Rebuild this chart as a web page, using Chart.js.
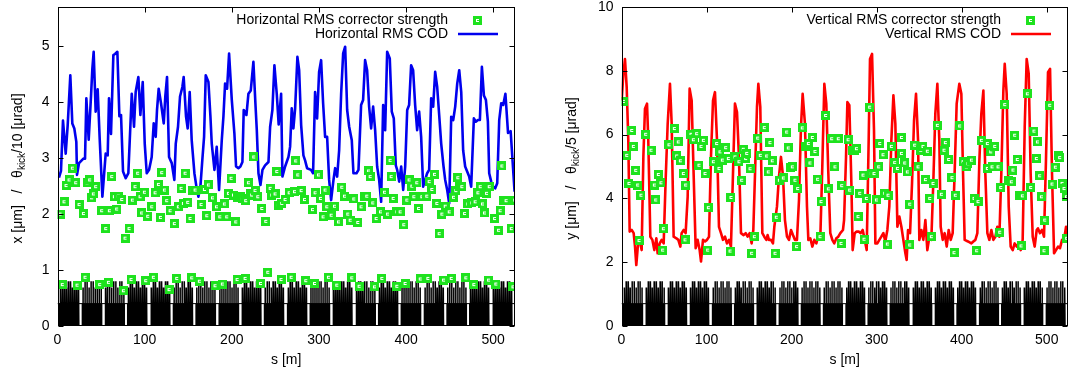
<!DOCTYPE html>
<html>
<head>
<meta charset="utf-8">
<script src="https://cdn.jsdelivr.net/npm/chart.js@4.4.1/dist/chart.umd.min.js"></script>
<style>
  html, body { margin: 0; padding: 0; background: #fff; overflow: hidden; }
  body { width: 1068px; height: 376px; position: relative; }
  canvas { position: absolute; top: 0; }
  #left  { left: 0; }
  #right { left: 534px; }
</style>
</head>
<body>
<canvas id="left" width="534" height="376"></canvas>
<canvas id="right" width="546" height="376"></canvas>
<script>
// ---- data ----
const S_MAX = 525;
const sTicks = [0, 100, 200, 300, 400, 500];
const xPanelTicks = [0, 1, 2, 3, 4, 5];
const yPanelTicks = [0, 2, 4, 6, 8, 10];

// horizontal RMS COD [um], pairs [s, value]
const codX = [
  [1.7,2.65],[4.0,2.77],[6.3,3.67],[9.4,3.08],[11.7,3.59],[14.7,4.48],[17.0,3.62],[19.3,3.53],[21.6,3.29],[22.4,2.70],
  [24.7,2.91],[29.7,2.99],[31.6,2.99],[33.1,4.07],[35.8,3.33],[38.5,4.12],[40.0,4.60],[41.5,4.90],[43.8,3.83],[46.1,4.23],
  [48.4,3.35],[51.5,2.31],[55.3,3.08],[57.6,3.05],[59.1,4.07],[61.4,3.43],[64.1,4.84],[66.0,4.86],[68.7,4.90],[71.0,3.75],
  [72.9,3.77],[75.2,2.76],[78.3,2.64],[81.3,2.73],[85.2,4.15],[87.8,3.56],[89.7,4.18],[92.8,4.45],[95.1,3.77],[97.8,4.36],
  [100.1,3.26],[102.4,2.73],[105.1,2.79],[108.1,3.02],[110.4,3.62],[112.7,3.38],[114.2,3.86],[116.1,4.24],[118.8,3.98],[121.9,3.62],
  [123.8,4.12],[125.7,4.45],[128.0,3.02],[131.1,2.91],[134.1,2.61],[135.7,3.26],[138.3,3.56],[140.6,4.10],[143.3,4.27],[144.8,4.45],
  [147.5,3.74],[149.4,3.53],[151.7,4.18],[154.0,3.32],[157.1,2.73],[159.4,2.49],[161.7,2.31],[164.0,2.49],[166.3,2.99],[168.2,3.38],
  [170.1,4.48],[173.2,4.36],[175.5,3.74],[177.0,3.26],[180.1,2.79],[182.7,3.20],[185.4,2.43],[188.5,3.32],[190.4,3.74],[192.3,4.33],
  [194.6,4.24],[196.9,4.87],[200.0,4.04],[203.0,3.44],[204.9,2.85],[207.6,2.82],[209.9,2.85],[212.2,2.93],[213.7,3.86],[216.8,3.77],
  [219.1,4.15],[221.8,4.21],[224.8,4.72],[227.1,3.98],[228.7,3.50],[230.6,2.73],[232.9,2.52],[235.2,2.79],[238.2,2.87],[242.1,2.93],
  [244.0,3.56],[246.6,3.86],[248.9,4.66],[251.6,4.15],[253.8,3.60],[256.6,4.15],[258.1,2.67],[261.2,2.85],[265.0,3.02],[266.9,3.20],
  [268.8,3.89],[270.7,3.53],[272.7,3.89],[275.3,4.81],[277.3,4.57],[279.6,3.59],[282.2,3.05],[284.1,2.96],[286.4,2.82],[291.0,2.79],
  [293.3,2.73],[295.6,4.18],[297.9,3.71],[300.2,4.54],[302.5,4.75],[304.8,3.98],[307.1,3.38],[309.4,3.38],[311.7,2.61],[314.0,2.25],
  [316.7,2.61],[318.6,2.82],[320.9,2.67],[323.2,3.14],[325.5,4.15],[327.8,4.87],[330.1,4.99],[332.4,3.86],[334.7,3.56],[337.7,3.32],
  [339.6,2.73],[343.1,2.73],[345.4,2.79],[348.4,3.95],[350.7,4.04],[353.0,4.75],[355.3,4.57],[357.6,3.92],[359.9,3.53],[362.2,3.92],
  [364.5,3.50],[366.8,2.85],[369.1,2.61],[371.4,2.22],[373.7,3.95],[376.0,3.50],[378.3,4.90],[381.3,4.78],[383.6,3.83],[385.9,3.71],
  [388.2,2.87],[389.8,2.79],[392.1,2.58],[394.4,2.85],[396.7,2.43],[399.0,2.85],[401.3,3.86],[403.5,3.95],[405.8,4.66],[408.1,4.57],
  [410.4,3.95],[412.7,3.50],[415.0,3.83],[417.3,3.38],[419.6,2.49],[421.9,2.61],[424.2,2.73],[426.5,2.79],[428.8,4.07],[431.1,3.92],
  [433.4,4.54],[435.7,4.27],[438.0,3.77],[440.3,3.26],[443.0,2.85],[444.9,2.61],[447.2,2.43],[449.5,2.19],[451.8,3.74],[454.1,3.68],
  [456.4,3.92],[458.7,4.33],[461.0,4.57],[463.3,4.18],[465.5,3.14],[467.8,2.85],[470.1,2.76],[472.4,2.67],[474.7,2.49],[477.8,3.71],
  [480.1,3.65],[482.4,3.68],[484.7,3.68],[487.0,4.63],[489.3,4.12],[491.6,4.04],[493.9,3.65],[495.4,2.73],[497.7,2.58],[500.0,2.49],
  [502.3,2.46],[504.6,2.55],[506.9,3.68],[509.2,3.98],[511.5,3.95],[514.0,4.15],[517.0,3.45],[520.0,3.48],[524.5,2.40]
];

// horizontal RMS corrector strength (theta_kick / 10) [urad]
const kickX = [
  [2.9,2.00],[7.5,2.22],[9.8,2.51],[13.2,2.61],[17.0,2.82],[20.9,2.56],[24.7,2.17],[29.7,2.01],[33.9,2.56],[36.9,2.61],
  [39.2,2.29],[41.1,2.36],[43.8,2.49],[50.7,2.06],[55.3,1.74],[59.5,2.06],[62.2,2.67],[65.2,2.31],[67.9,2.09],[69.8,2.32],
  [73.7,2.26],[77.5,1.57],[82.1,1.74],[85.9,2.25],[89.0,2.49],[92.0,2.73],[94.7,2.31],[96.6,2.02],[99.7,2.39],[103.5,1.96],
  [108.1,2.13],[112.0,2.38],[115.8,2.53],[118.1,1.94],[119.6,2.74],[122.7,2.43],[125.3,2.24],[129.2,2.06],[134.1,1.83],[138.7,2.13],
  [141.8,2.46],[144.5,2.19],[146.4,2.73],[149.4,2.21],[152.1,1.92],[154.8,2.42],[157.9,2.43],[164.8,2.17],[168.6,2.44],[171.3,1.97],
  [173.2,2.52],[177.8,2.29],[182.4,2.13],[186.2,1.95],[191.5,2.18],[194.2,1.95],[196.1,2.37],[199.2,2.64],[201.9,2.34],[204.6,1.86],
  [206.8,2.30],[209.5,2.31],[212.2,2.27],[216.0,2.24],[219.1,2.56],[221.0,2.36],[222.9,2.34],[225.2,3.02],[226.7,2.42],[229.8,2.31],
  [234.4,2.10],[239.0,1.87],[244.0,2.46],[245.9,2.34],[249.7,2.36],[251.6,2.76],[253.5,2.16],[257.4,2.19],[261.2,2.26],[265.8,2.38],
  [271.9,2.40],[273.4,2.95],[275.7,2.70],[279.6,2.42],[283.4,2.26],[292.6,2.08],[295.6,2.38],[299.5,2.70],[301.7,2.28],[304.8,1.95],
  [307.1,2.43],[309.0,2.13],[314.0,1.98],[317.8,2.14],[322.4,1.86],[326.2,2.48],[329.3,2.32],[333.1,2.00],[335.8,1.89],[340.0,2.27],
  [344.6,1.85],[348.4,2.13],[352.3,2.31],[354.9,2.32],[356.9,2.77],[358.8,2.67],[361.8,2.20],[365.7,1.92],[370.6,2.04],[375.2,2.39],
  [378.7,2.00],[381.7,2.96],[382.9,2.67],[385.2,2.28],[389.4,2.04],[393.2,2.04],[397.4,1.81],[400.9,2.25],[403.5,2.61],[406.6,2.50],
  [408.9,2.31],[412.3,2.56],[414.3,2.10],[418.1,2.31],[423.8,2.32],[426.5,2.58],[429.6,2.44],[432.6,2.71],[435.3,2.19],[438.0,1.65],
  [441.1,2.00],[444.9,2.14],[449.5,2.04],[454.4,2.30],[457.1,2.42],[459.4,2.65],[461.0,2.50],[464.0,2.49],[467.1,2.01],[470.9,2.18],
  [475.5,2.20],[479.3,2.22],[482.4,2.38],[485.1,2.49],[487.7,2.18],[490.0,2.02],[492.3,2.37],[495.4,2.49],[501.5,1.92],[506.1,1.71],
  [508.0,2.06],[510.0,2.86],[511.9,2.25],[514.8,2.24],[520.7,1.74],[524.7,2.25],
  [5.5,0.74],[22.4,0.73],[31.6,0.87],[48.4,0.74],[58.4,0.78],[75.6,0.63],[84.4,0.83],[101.2,0.81],[110.0,0.87],[128.0,0.65],
  [136.8,0.85],[154.0,0.86],[162.8,0.80],[180.8,0.72],[189.2,0.75],[206.1,0.83],[215.3,0.85],[232.9,0.76],[241.3,0.96],[256.5,0.83],
  [268.1,0.87],[284.9,0.81],[294.9,0.76],[310.9,0.87],[320.5,0.73],[337.7,0.86],[346.1,0.71],[363.7,0.70],[372.2,0.85],[389.4,0.71],
  [398.9,0.76],[416.2,0.84],[425.0,0.85],[443.0,0.82],[451.8,0.85],[468.6,0.86],[477.8,0.74],[494.6,0.82],[503.0,0.75],[522.7,0.70]
];

// vertical RMS COD [um]
const codY = [
  [0.2,7.07],[2.2,7.91],[4.1,8.37],[6.1,7.49],[8.0,5.82],[9.6,2.96],[12.0,3.01],[14.3,2.91],[15.9,2.49],[17.4,1.91],
  [19.8,2.70],[22.1,2.59],[23.7,2.38],[25.7,5.30],[27.6,6.81],[30.0,6.97],[31.5,5.82],[33.9,2.80],[36.3,2.70],[38.6,2.38],
  [41.0,2.75],[42.5,2.28],[44.9,2.59],[47.2,2.70],[49.6,2.59],[51.9,4.57],[54.3,6.34],[57.0,7.59],[59.0,6.34],[61.3,2.80],
  [64.5,2.75],[66.8,2.70],[69.2,2.49],[70.7,2.91],[73.1,3.01],[75.4,2.91],[77.8,4.05],[80.1,7.44],[82.5,7.07],[84.8,4.78],
  [87.2,2.44],[89.5,2.70],[91.9,2.38],[93.5,2.02],[95.8,2.70],[98.2,2.65],[100.5,2.70],[102.9,2.80],[105.2,5.30],[107.6,7.07],
  [109.9,7.33],[112.3,5.82],[114.6,3.11],[117.0,2.91],[119.3,2.70],[121.7,2.80],[124.0,2.59],[126.4,2.70],[128.7,2.49],[131.1,4.78],
  [133.4,6.97],[135.8,6.71],[138.1,5.30],[140.5,2.91],[143.6,2.85],[146.0,2.91],[148.3,2.80],[150.7,2.91],[153.0,2.59],[155.0,3.01],
  [157.0,4.78],[159.3,6.86],[160.9,7.59],[163.2,6.86],[165.6,2.91],[167.9,2.80],[170.3,2.70],[171.8,2.85],[173.4,2.70],[175.8,2.70],
  [178.1,2.59],[179.7,3.11],[182.8,3.74],[185.2,4.70],[187.5,5.30],[189.9,4.70],[192.2,3.32],[194.6,2.80],[196.9,2.70],[199.3,3.01],
  [201.6,2.85],[204.0,2.70],[206.3,2.70],[208.7,3.95],[211.0,6.24],[213.0,7.28],[215.7,6.34],[218.1,3.74],[219.7,2.70],[222.0,2.75],
  [224.4,2.49],[226.7,2.70],[229.1,2.59],[231.4,2.85],[233.8,2.80],[236.1,4.99],[238.5,7.59],[240.8,6.97],[243.2,4.78],[245.5,2.91],
  [247.9,2.70],[250.2,2.59],[252.6,2.75],[254.9,2.80],[257.3,2.91],[260.4,3.01],[261.7,3.32],[264.0,5.30],[265.6,7.02],[267.9,6.92],
  [270.3,4.47],[271.8,2.38],[274.2,2.91],[276.5,2.96],[278.9,2.96],[281.2,2.91],[283.6,3.01],[286.0,2.70],[288.3,2.38],[290.7,5.93],
  [292.2,8.37],[294.6,8.53],[296.9,6.13],[298.5,2.59],[300.8,2.59],[303.2,2.70],[305.5,2.80],[307.9,2.91],[310.2,2.65],[312.6,3.01],
  [314.9,3.74],[317.3,5.82],[319.7,7.23],[322.0,6.34],[324.4,3.11],[326.7,3.43],[329.1,3.11],[331.4,2.70],[333.8,2.28],[335.3,2.07],
  [336.9,3.01],[339.3,2.91],[341.6,4.47],[344.0,6.45],[346.3,7.28],[348.7,5.82],[350.2,2.70],[352.6,3.01],[354.9,2.70],[357.3,3.32],
  [359.6,2.38],[362.0,2.80],[364.3,2.70],[366.7,4.57],[369.0,6.66],[371.4,7.59],[373.7,5.82],[375.3,3.11],[377.7,2.70],[380.0,2.91],
  [382.4,2.49],[384.7,3.01],[387.1,2.70],[389.4,2.91],[391.8,4.89],[394.1,6.97],[397.2,7.59],[399.6,7.28],[401.6,4.78],[403.5,2.70],
  [407.4,2.65],[411.4,2.59],[413.7,2.65],[416.1,2.70],[418.4,2.91],[420.8,5.20],[423.1,6.66],[425.5,7.38],[427.8,4.78],[430.2,2.91],
  [432.5,2.70],[434.9,3.01],[437.2,2.70],[439.6,2.80],[441.9,3.11],[444.3,2.80],[446.6,4.78],[449.0,7.38],[450.6,8.22],[452.9,7.28],
  [455.3,3.74],[457.6,2.49],[460.0,2.38],[462.3,2.59],[464.7,2.49],[467.0,2.59],[469.4,2.38],[471.7,2.70],[474.1,6.24],[476.4,8.37],
  [478.8,7.91],[481.1,4.78],[483.5,2.80],[485.8,2.49],[488.2,3.01],[489.7,3.06],[492.1,2.91],[494.4,3.01],[496.8,2.80],[499.1,5.20],
  [501.5,7.96],[503.9,8.06],[506.2,4.78],[508.6,2.28],[510.9,2.38],[513.3,2.49],[515.6,2.44],[518.0,2.70],[520.3,2.70],[522.7,3.11],
  [525.0,2.70]
];

// vertical RMS corrector strength (theta_kick / 5) [urad]
const kickY = [
  [2.2,7.04],[6.1,5.35],[8.8,4.47],[12.0,6.13],[13.9,5.63],[16.7,4.88],[19.0,4.42],[20.6,2.68],[22.9,4.10],[28.4,6.01],
  [34.7,5.51],[38.6,4.42],[40.2,3.95],[43.3,4.75],[46.4,4.49],[48.4,2.38],[49.2,3.05],[55.8,5.68],[62.1,6.19],[64.9,5.33],
  [66.8,5.77],[69.2,5.18],[72.7,4.78],[74.7,2.70],[75.4,4.42],[81.7,6.01],[84.5,5.84],[88.4,6.03],[91.1,5.04],[93.5,5.63],
  [96.2,5.82],[98.2,4.78],[101.3,2.38],[102.1,3.71],[108.0,5.15],[111.9,5.72],[114.6,4.94],[115.8,5.46],[118.6,5.20],[122.5,5.59],
  [125.6,5.25],[127.6,2.35],[128.7,4.03],[133.4,5.30],[138.1,5.15],[141.3,4.57],[143.2,5.54],[146.0,5.25],[147.2,5.41],[151.1,4.93],
  [153.0,2.28],[156.2,2.80],[160.1,5.89],[163.2,5.35],[167.9,6.22],[170.7,5.33],[172.6,4.83],[174.6,5.75],[177.3,5.18],[180.5,2.28],
  [182.0,3.41],[185.6,4.57],[190.3,4.64],[194.2,6.08],[196.1,5.58],[199.3,4.96],[200.9,4.99],[204.0,4.57],[205.9,2.49],[207.1,4.31],
  [212.6,6.21],[216.5,5.63],[219.7,5.72],[221.6,5.11],[224.4,5.91],[227.5,5.47],[230.6,4.60],[233.4,2.80],[234.6,3.90],[240.0,6.60],
  [243.2,4.30],[247.1,5.87],[251.0,4.99],[254.9,5.87],[258.1,2.59],[258.9,4.40],[266.4,5.84],[268.3,4.26],[272.2,5.51],[274.2,5.51],
  [276.2,5.56],[278.1,3.43],[280.1,4.16],[284.0,4.73],[285.2,2.72],[287.9,4.00],[291.8,6.86],[293.8,4.78],[296.9,4.78],[299.7,3.95],
  [302.4,4.99],[303.6,5.72],[307.5,5.37],[309.5,4.16],[312.6,2.57],[313.4,4.10],[317.3,5.63],[321.2,5.12],[324.4,4.94],[329.1,5.91],
  [329.1,5.41],[333.0,5.11],[336.1,4.83],[338.9,3.82],[338.9,2.54],[344.7,5.67],[348.7,4.99],[351.8,5.51],[354.5,5.63],[357.3,4.59],
  [359.6,5.48],[362.4,4.00],[364.3,2.80],[366.3,4.47],[371.4,6.29],[376.1,4.13],[379.2,5.51],[380.8,5.75],[384.7,5.22],[388.6,4.65],
  [391.0,2.30],[392.5,4.10],[397.6,6.27],[401.6,5.15],[405.5,4.99],[407.4,5.09],[411.4,5.20],[414.5,4.00],[417.6,2.36],[419.2,3.90],
  [423.1,5.82],[430.2,5.72],[430.2,4.94],[434.1,5.46],[435.7,4.99],[438.8,5.63],[442.7,4.99],[444.7,2.94],[445.9,4.34],[450.6,6.94],
  [455.3,4.57],[458.4,4.52],[460.3,4.89],[462.3,5.98],[465.4,5.22],[468.2,4.08],[469.8,2.51],[471.3,4.08],[477.2,7.28],[481.1,4.34],
  [485.0,6.11],[487.8,5.25],[489.0,5.77],[491.7,4.71],[493.7,4.05],[496.8,2.36],[497.6,3.32],[503.5,6.92],[506.2,4.45],[510.1,4.98],
  [513.3,5.35],[515.2,5.28],[518.0,4.47],[520.3,4.31],[523.1,4.05],[523.4,2.75]
];

// lattice: the cell repeats; start of each cell [m], element layout inside one cell
const cellStarts = [0.5, 26.5, 52.5, 78.5, 105, 131, 157, 183.5, 209.5, 235.5, 262, 288, 314, 340.5, 366.5, 392.5, 419, 445, 471, 497.5];
const cellBlock = [1.2, 25.0];                      // lower body of the cell [m from cell start]
const elemOffsets = [2.0, 4.3, 6.6, 8.9, 11.2, 13.6, 15.9, 18.2, 20.5, 22.8];
const elemTops    = [0.86, 1, 1, 0.86, 1, 1, 0.86, 1, 1, 0.86];
const elemLength  = 1.75;

// ---- drawing ----
const FONT = '14px "Liberation Sans", Arial, sans-serif';
const SUB_FONT = '10px "Liberation Sans", Arial, sans-serif';
const TICK = 5;

function makeMarker() {
    const c = document.createElement('canvas');
    c.width = 9; c.height = 9;
    const g = c.getContext('2d');
    g.fillStyle = '#1ee21e';
    g.fillRect(0, 0, 9, 9);
    g.fillStyle = '#ffffff';
    g.fillRect(3, 3, 3, 1);
    g.fillRect(3, 5, 3, 1);
    g.fillRect(3, 3, 1, 3);
    return c;
}
const marker = makeMarker();

function latticePoints(h) {
    const pts = [];
    cellStarts.forEach(c => {
        pts.push({ x: c + cellBlock[0], y: 0 }, { x: c + cellBlock[0], y: h / 2 });
        elemOffsets.forEach((o, i) => {
            const t = elemTops[i] * h;
            pts.push({ x: c + o, y: h / 2 }, { x: c + o, y: t },
                     { x: c + o + elemLength, y: t }, { x: c + o + elemLength, y: h / 2 });
        });
        pts.push({ x: c + cellBlock[1], y: h / 2 }, { x: c + cellBlock[1], y: 0 });
    });
    return pts;
}

function drawYTitle(ctx, parts, cx, cy) {
    ctx.save();
    ctx.translate(cx, cy);
    ctx.rotate(-Math.PI / 2);
    ctx.textBaseline = 'middle';
    ctx.textAlign = 'left';
    let total = 0;
    const widths = parts.map(p => {
        ctx.font = p.sub ? SUB_FONT : FONT;
        const w = ctx.measureText(p.text).width;
        total += w;
        return w;
    });
    let px = -total / 2;
    parts.forEach((p, i) => {
        ctx.font = p.sub ? SUB_FONT : FONT;
        ctx.fillText(p.text, px, p.sub ? 4 : 0);
        px += widths[i];
    });
    ctx.restore();
}

const decor = {
    id: 'decor',
    afterDraw(chart, args, o) {
        const { ctx, chartArea: a, scales: { x, y } } = chart;
        ctx.save();
        ctx.strokeStyle = '#000';
        ctx.lineWidth = 1;
        const L = Math.round(a.left) + 0.5, R = Math.round(a.right) - 0.5;
        const T = Math.round(a.top) + 0.5,  B = Math.round(a.bottom) - 0.5;
        ctx.strokeRect(L, T, R - L, B - T);

        ctx.beginPath();
        sTicks.forEach(v => {
            const px = Math.round(x.getPixelForValue(v)) + 0.5;
            ctx.moveTo(px, B); ctx.lineTo(px, B - TICK);
            ctx.moveTo(px, T); ctx.lineTo(px, T + TICK);
        });
        o.yTicks.forEach(v => {
            const py = Math.round(y.getPixelForValue(v)) + 0.5;
            ctx.moveTo(L, py); ctx.lineTo(L + TICK, py);
            ctx.moveTo(R, py); ctx.lineTo(R - TICK, py);
        });
        ctx.stroke();

        ctx.fillStyle = '#000';
        ctx.font = FONT;
        ctx.textAlign = 'center';
        ctx.textBaseline = 'middle';
        ctx.fillText('s [m]', (a.left + a.right) / 2, 360);

        drawYTitle(ctx, o.yTitle, o.yTitleX, (a.top + a.bottom) / 2 + 2);

        // key, gnuplot style: text right aligned, sample on its right
        ctx.textAlign = 'right';
        ctx.fillText(o.keys[0], a.right - 67, 20);
        ctx.fillText(o.keys[1], a.right - 67, 34);
        ctx.drawImage(marker, Math.round(a.right - 42), 16);
        ctx.strokeStyle = o.color;
        ctx.lineWidth = 2.6;
        ctx.beginPath();
        ctx.moveTo(a.right - 57, 34);
        ctx.lineTo(a.right - 17, 34);
        ctx.stroke();
        ctx.restore();
    }
};

function makePanel(canvas, p) {
    return new Chart(canvas, {
        type: 'line',
        data: {
            datasets: [
                { type: 'scatter', data: p.kicks, pointStyle: marker, pointRadius: 4.5, order: 1 },
                { data: p.cod, borderColor: p.color, borderWidth: 2.6, borderJoinStyle: 'round',
                  pointRadius: 0, tension: 0, fill: false, order: 2 },
                { data: [{ x: 0, y: p.latticeH / 2 }, { x: S_MAX, y: p.latticeH / 2 }],
                  borderColor: '#000', borderWidth: 1, pointRadius: 0, order: 3 },
                { data: latticePoints(p.latticeH), borderWidth: 0, backgroundColor: '#000',
                  fill: 'origin', pointRadius: 0, tension: 0, order: 4 }
            ]
        },
        options: {
            responsive: false,
            animation: false,
            devicePixelRatio: 1,
            layout: { padding: { left: 0, top: 7, right: p.padRight, bottom: 0 } },
            plugins: {
                legend: { display: false },
                tooltip: { enabled: false },
                decor: { yTicks: p.yTicks, yTitle: p.yTitle, yTitleX: p.yTitleX, keys: p.keys, color: p.color }
            },
            scales: {
                x: {
                    type: 'linear', min: 0, max: S_MAX,
                    grid: { display: false, drawTicks: false },
                    border: { display: false },
                    ticks: { font: { family: '"Liberation Sans", Arial, sans-serif', size: 14 }, color: '#000',
                             padding: 6, maxRotation: 0, autoSkip: false },
                    afterBuildTicks: s => { s.ticks = sTicks.map(v => ({ value: v })); },
                    afterFit: s => { s.height = 50; s.paddingLeft = 0; s.paddingRight = 0; }
                },
                y: {
                    type: 'linear', min: 0, max: p.yMax,
                    grid: { display: false, drawTicks: false },
                    border: { display: false },
                    ticks: { font: { family: '"Liberation Sans", Arial, sans-serif', size: 14 }, color: '#000',
                             padding: 8, autoSkip: false },
                    afterBuildTicks: s => { s.ticks = p.yTicks.map(v => ({ value: v })); },
                    afterFit: s => { s.width = p.yAxisWidth; s.paddingTop = 0; s.paddingBottom = 0; }
                }
            }
        },
        plugins: [decor]
    });
}

makePanel(document.getElementById('left'), {
    kicks: kickX, cod: codX, color: '#0000ee', latticeH: 0.8,
    yMax: 5.7, yTicks: xPanelTicks, yAxisWidth: 57.5, padRight: 19,
    yTitleX: 18,
    yTitle: [{ text: 'x [\u03bcm]   /   \u03b8' }, { text: 'kick', sub: true }, { text: '/10 [\u03bcrad]' }],
    keys: ['Horizontal RMS corrector strength', 'Horizontal RMS COD']
});

makePanel(document.getElementById('right'), {
    kicks: kickY, cod: codY, color: '#ff0000', latticeH: 1.4,
    yMax: 10, yTicks: yPanelTicks, yAxisWidth: 87.5, padRight: 12,
    yTitleX: 38,
    yTitle: [{ text: 'y [\u03bcm]   /   \u03b8' }, { text: 'kick', sub: true }, { text: '/5 [\u03bcrad]' }],
    keys: ['Vertical RMS corrector strength', 'Vertical RMS COD']
});
</script>
</body>
</html>
